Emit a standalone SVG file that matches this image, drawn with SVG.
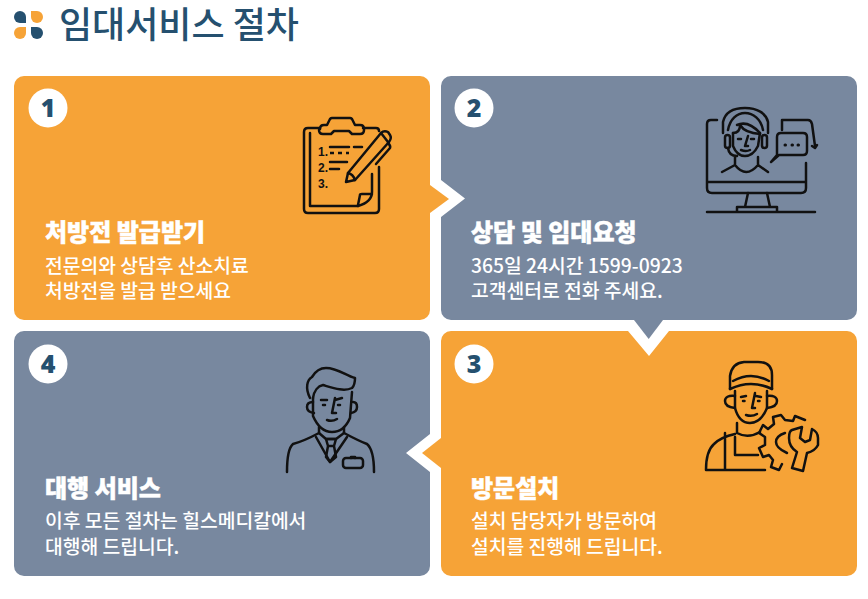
<svg xmlns="http://www.w3.org/2000/svg" width="868" height="599" viewBox="0 0 868 599">
<style>
text{font-family:"Noto Sans CJK KR","Noto Sans",sans-serif}
.title{font-size:36px;font-weight:500;fill:#25506f}
.h{font-size:24px;font-weight:900;fill:#fff;stroke:#fff;stroke-width:.5}
.b{font-size:19.300px;font-weight:500;fill:#fff}
.n{font-size:25px;font-weight:900;fill:#25506f;text-anchor:middle;font-family:"Noto Sans","Noto Sans CJK KR",sans-serif}
.i{fill:none;stroke:#111;stroke-width:2.500;stroke-linecap:round;stroke-linejoin:round}
.o{fill:#f6a337}.g{fill:#78889f}.w{fill:#fff}.d{fill:#25506f}
.m{font-size:12px;font-weight:700;fill:#111;font-family:"Liberation Sans",sans-serif}
</style>
<rect class="w" width="868" height="599"/>
<g id="logo">
<path class="d" d="M20 11a6 6 0 0 1 6 6v6h-6a6 6 0 0 1 0-12z"/>
<path class="o" d="M37 11a6 6 0 0 1 0 12a6 6 0 0 1-6-6v-6z"/>
<path class="o" d="M20 27h6v6a6 6 0 0 1-12 0a6 6 0 0 1 6-6z"/>
<path class="d" d="M31 27h6a6 6 0 0 1 0 12a6 6 0 0 1-6-6z"/>
</g>
<text id="title" class="title" x="59" y="38">임대서비스 절차</text>
<g id="node-1">
<rect class="o" x="14" y="76" width="416" height="244" rx="10"/>
<circle class="w" cx="48" cy="108" r="19.500"/><text class="n" x="48" y="117">1</text>
<g class="i">
<path d="M320 128H308q-4 0-4 4v77q0 4 4 4h67q4 0 4-4V167"/>
<path d="M363 128h13q3 0 3 3"/>
<path d="M320 129q0-4 4-4h3l3-6q1-1 2-1h18q1 0 2 1l3 6h5q4 0 4 4v1q0 4-4 4h-8l-3-3h-15l-3 3h-8q-4 0-4-4z"/>
<path d="M310 133v73h48"/>
<path d="M358 206q14-4 14-14v-18M358 205l2-10q0-1 2-1h10"/>
<path d="M330 147h19M354 147h8M330 162h17M330 169h9"/>
<path d="M330 153h19" stroke-dasharray="4 4" stroke-linecap="butt"/>
<path d="M346 182l2-9 33-40q3-3 7-1l2 3q2 3-1 7l-34 38z"/>
<path d="M348 173q5 1 7 7M381 133l7 9"/>
<path d="M376 164l14-16q1-2-2-5"/>
</g>
<text class="m" x="318" y="156">1.</text><text class="m" x="318" y="172">2.</text><text class="m" x="318" y="188">3.</text>
<text class="h" x="45" y="241">처방전 발급받기</text>
<text class="b" x="45" y="273">전문의와 상담후 산소치료</text>
<text class="b" x="45" y="298">처방전을 발급 받으세요</text>
</g>
<g id="node-2">
<path class="g" d="M451 76H847a10 10 0 0 1 10 10V310a10 10 0 0 1-10 10H451a10 10 0 0 1-10-10V217L465 198.500 441 180V86a10 10 0 0 1 10-10z"/>
<circle class="w" cx="474" cy="108" r="19.500"/><text class="n" x="474" y="117">2</text>
<g class="i">
<path d="M717 120h-6q-4 0-4 4v64q0 5 5 5h89q5 0 5-5v-25M707 182h99"/>
<path d="M748 193l-3 14M767 193l3 14M737 212v-5h40v5M707 212h108"/>
<path d="M723 133V122C725 113 733 108 745 108S766 113 768 122V133M728 130C730 119 737 113 745 113S761 119 763 130"/>
<rect x="725" y="135" width="5" height="13" rx="2.500"/><rect x="762" y="135" width="5" height="13" rx="2.500"/>
<path d="M733 133V146Q737 156 745 156T758 146L760 133"/>
<path d="M733 133Q740 133 740 125Q745 133 760 134"/>
<path d="M737 125Q748 120 760 133"/>
<path d="M738 139h3M751 139h3M748 136l-3 10h3M741 150q5 2 9 0"/>
<path d="M728 148q1 8 9 8M735 157v8l-13 7M758 157v8l10 7M735 165q11 14 23 0"/>
<path d="M777 155v-18q0-4 4-4h22q4 0 4 4v14q0 4-4 4h-24l-8 7z"/>
<path d="M785 145h.5M792 145h.5M798 145h.5" stroke-width="3"/>
<path d="M782 130v-10h26q3 0 4 4l3 22"/>
<path d="M812 146l3 2 2-3" />
</g>
<text class="h" x="471" y="241">상담 및 임대요청</text>
<text class="b" x="471" y="273">365일 24시간 1599-0923</text>
<text class="b" x="471" y="298">고객센터로 전화 주세요.</text>
</g>
<g id="node-3">
<path class="o" d="M451 331H628L649 356 669 331H847a10 10 0 0 1 10 10V566a10 10 0 0 1-10 10H451a10 10 0 0 1-10-10V341a10 10 0 0 1 10-10z"/>
<circle class="w" cx="474" cy="364" r="19.500"/><text class="n" x="474" y="373">3</text>
<g class="i">
<path d="M730 389V376Q732 363 744 362H758Q772 362 772 375V389"/>
<path d="M730 389Q751 379 772 389M733 381Q751 371 769 381"/>
<path d="M735 391V408Q739 423 750 423T767 408V391"/>
<path d="M735 396q-10-1-10 5t10 7M767 396q10-1 10 5t-10 7"/>
<path d="M741 397l5-1M756 396l5 1M743 401h1.500M758 401h1.500M755 393l-3 15h3M746 415q6 2 11-1"/>
<path d="M737 423v10q11 6 23-1M735 434q-14 3-21 10q-8 7-8 26h59M725 433v37M735 437v18h23"/>
<path d="M805 420L795 416 793 421 785 420 781 415 773 417 774 424 768 429 763 425 759 433 765 437 765 445 759 448 763 457 769 455 773 460 771 467 779 470 782 464"/>
<path d="M785 433Q776 436 776 442T787 453"/>
<path d="M792 468L797 452Q789 447 789 438Q789 431 792 430L802 427 800 438 805 442 810 440 812 429Q818 432 818 438V445Q815 451 807 453L803 471z"/>
</g>
<text class="h" x="471" y="497">방문설치</text>
<text class="b" x="471" y="528">설치 담당자가 방문하여</text>
<text class="b" x="471" y="554">설치를 진행해 드립니다.</text>
</g>
<g id="node-4">
<path class="g" d="M24 331H420a10 10 0 0 1 10 10V434L406 453 430 472V566a10 10 0 0 1-10 10H24a10 10 0 0 1-10-10V341a10 10 0 0 1 10-10z"/>
<circle class="w" cx="48" cy="364" r="19.500"/><text class="n" x="48" y="373">4</text>
<g class="i">
<path d="M310 398C305 388 307 380 312 377C315 372 320 368 326 368C338 368 346 376 355 378C355 383 354 386 352 388C344 392 333 388 323 385C318 386 314 391 313 398"/>
<path d="M313 398V416Q320 432 332 432T350 418L352 392"/>
<path d="M313 402q-6 0-6 5t7 6M353 402q4 0 4 5t-6 6"/>
<path d="M323 405h2M338 405h2M321 400h6M335 400l7-2M335 398l-3 15h4M327 420q5 2 10-1"/>
<path d="M319 427v6q-15 8-26 11q-6 5-6 28M344 427v6q15 8 23 11q7 6 7 28"/>
<path d="M316 437l14 25 17-25M319 433l7 6h10l8-6"/>
<path d="M326 439h10l-2 7h-6zM328 446l-2 11 4 5 6-5-2-11"/>
<rect x="343" y="458" width="20" height="10" rx="3"/><path d="M351 458v-1h4v1"/>
</g>
<text class="h" x="45" y="497">대행 서비스</text>
<text class="b" x="45" y="528">이후 모든 절차는 힐스메디칼에서</text>
<text class="b" x="45" y="554">대행해 드립니다.</text>
</g>
<g id="connectors">
<path class="o" d="M430 185L449 199 430 213z"/>
<path class="g" d="M634 320H663L648.700 339z"/>
<path class="o" d="M441 438L422 453 441 468z"/>
</g>
</svg>
